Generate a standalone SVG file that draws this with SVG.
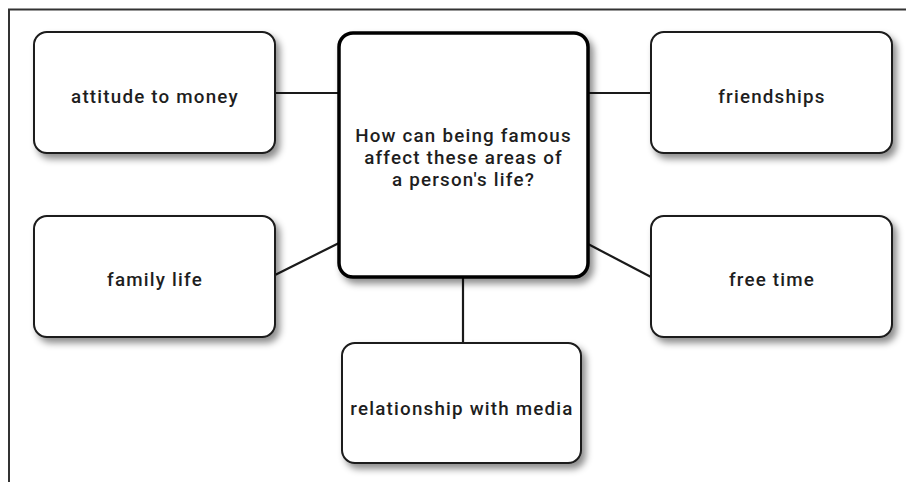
<svg xmlns="http://www.w3.org/2000/svg" width="906" height="482" viewBox="0 0 906 482">
<defs>
<filter id="sh" x="-10%" y="-10%" width="130%" height="130%">
<feDropShadow dx="4" dy="5" stdDeviation="3.5" flood-color="#000" flood-opacity="0.45"/>
</filter>
<style>
.box{fill:#fff;stroke:#1a1a1a;stroke-width:2;filter:url(#sh)}
.main{fill:#fff;stroke:#000;stroke-width:3.5;filter:url(#sh)}
.lbl{font-family:Roboto,"Open Sans",sans-serif;font-weight:500;font-size:18.8px;letter-spacing:1.2px;fill:#1e1e1e;text-anchor:middle}
.conn line{stroke:#1a1a1a;stroke-width:2.2}
</style>
</defs>
<rect width="906" height="482" fill="#fff"/>
<path d="M9,482 V9.5 H906" fill="none" stroke="#333" stroke-width="2"/>
<g id="connectors" class="conn">
<line x1="275" y1="93" x2="339" y2="93"/>
<line x1="588" y1="93" x2="651" y2="93"/>
<line x1="275" y1="275" x2="339" y2="243"/>
<line x1="588" y1="244" x2="651" y2="277"/>
<line x1="463" y1="277" x2="463" y2="343"/>
</g>
<g id="attitude">
<rect class="box" x="34" y="32" width="241" height="121" rx="13"/>
<text class="lbl" x="155" y="103">attitude to money</text>
</g>
<g id="friendships">
<rect class="box" x="651" y="32" width="241" height="121" rx="13"/>
<text class="lbl" x="772" y="103">friendships</text>
</g>
<g id="family">
<rect class="box" x="34" y="216" width="241" height="121" rx="13"/>
<text class="lbl" x="155" y="286">family life</text>
</g>
<g id="freetime">
<rect class="box" x="651" y="216" width="241" height="121" rx="13"/>
<text class="lbl" x="772" y="286">free time</text>
</g>
<g id="media">
<rect class="box" x="342" y="343" width="239" height="120" rx="13"/>
<text class="lbl" x="462" y="415">relationship with media</text>
</g>
<g id="center">
<rect class="main" x="339" y="33" width="249" height="244" rx="14"/>
<text class="lbl" x="463.5" y="142"><tspan x="463.5" y="142">How can being famous</tspan><tspan x="463.5" y="164">affect these areas of</tspan><tspan x="463.5" y="186">a person's life?</tspan></text>
</g>
</svg>
